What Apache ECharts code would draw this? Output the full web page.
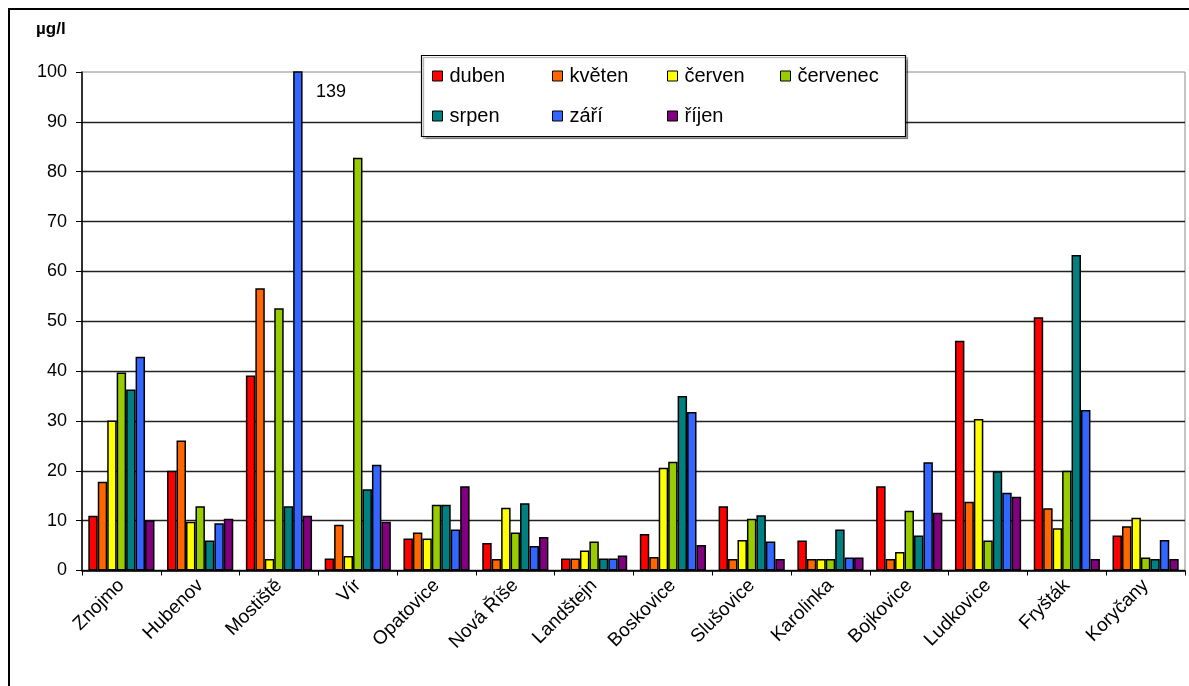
<!DOCTYPE html>
<html>
<head>
<meta charset="utf-8">
<script src="https://cdn.jsdelivr.net/npm/echarts@6/dist/echarts.min.js"></script>
<style>
  html, body { margin: 0; padding: 0; background: #fff; }
  #chart { width: 1189px; height: 686px; }
</style>
</head>
<body>
<div id="chart"></div>
<script>
// Sampling sites (reservoirs)
const categories = ['Znojmo', 'Hubenov', 'Mostiště', 'Vír', 'Opatovice', 'Nová Říše', 'Landštejn',
  'Boskovice', 'Slušovice', 'Karolinka', 'Bojkovice', 'Ludkovice', 'Fryšták', 'Koryčany'];

// Monthly concentrations, µg/l
const duben    = [11.0, 20.0, 39.1, 2.4, 6.4, 5.5, 2.4, 7.3, 12.9, 6.0, 16.9, 46.1, 50.8, 7.0];
const kveten   = [17.8, 26.1, 56.6, 9.2, 7.6, 2.3, 2.4, 2.7, 2.3, 2.3, 2.3, 13.8, 12.5, 8.9];
const cerven   = [30.1, 9.8, 2.3, 2.9, 6.4, 12.6, 4.0, 20.6, 6.1, 2.3, 3.7, 30.4, 8.5, 10.6];
const cervenec = [39.7, 12.9, 52.6, 82.8, 13.2, 7.6, 5.8, 21.8, 10.4, 2.3, 12.0, 6.0, 20.0, 2.6];
const srpen    = [36.3, 6.0, 12.9, 16.3, 13.2, 13.5, 2.4, 35.0, 11.1, 8.2, 7.0, 19.9, 63.3, 2.3];
const zari     = [42.9, 9.5, 139, 21.2, 8.2, 4.9, 2.4, 31.8, 5.8, 2.6, 21.7, 15.6, 32.2, 6.1];
const rijen    = [10.1, 10.4, 11.0, 9.8, 16.9, 6.7, 3.0, 5.1, 2.3, 2.6, 11.6, 14.8, 2.3, 2.3];

const seriesNames = ['duben', 'květen', 'červen', 'červenec', 'srpen', 'září', 'říjen'];
const seriesData = [duben, kveten, cerven, cervenec, srpen, zari, rijen];
const colors = ['#FF0000', '#FF6600', '#FFFF00', '#99CC00', '#008080', '#3366FF', '#800080'];

// y-axis scale
const yMin = 0, yMax = 100, yStep = 10;
const unitLabel = 'µg/l';

const FONT = '"Liberation Sans", Arial, sans-serif';
const chart = echarts.init(document.getElementById('chart'), null, { renderer: 'canvas' });

// legend laid out as fixed columns (two rows)
const legendCols = [
  { left: 432, names: ['duben', 'srpen'] },
  { left: 552, names: ['květen', 'září'] },
  { left: 667, names: ['červen', 'říjen'] },
  { left: 780, names: ['červenec'] }
];
const legends = legendCols.map(c => ({
  orient: 'vertical',
  left: c.left,
  top: 65,
  z: 6,
  padding: 0,
  icon: 'rect',
  itemWidth: 10,
  itemHeight: 10,
  itemGap: 18,
  selectedMode: false,
  data: c.names,
  itemStyle: { borderColor: '#000', borderWidth: 1 },
  textStyle: { fontFamily: FONT, fontSize: 20, color: '#000', lineHeight: 22, padding: [0, 0, 0, 2] }
}));

chart.setOption({
  animation: false,
  backgroundColor: '#fff',
  color: colors,
  textStyle: { fontFamily: FONT },
  grid: {
    left: 82, right: 4, top: 72, bottom: 115.5,
    show: true, borderColor: '#8a8a8a', borderWidth: 1, backgroundColor: 'transparent'
  },
  legend: legends,
  xAxis: {
    type: 'category',
    data: categories,
    axisLine: { lineStyle: { color: '#000', width: 1.5 } },
    axisTick: { show: true, alignWithLabel: false, length: 5, lineStyle: { color: '#000' } },
    axisLabel: { rotate: 45, fontSize: 19, color: '#000', fontFamily: FONT, margin: 12 },
    splitLine: { show: false }
  },
  yAxis: {
    type: 'value',
    min: yMin, max: yMax, interval: yStep,
    axisLine: { show: true, lineStyle: { color: '#000', width: 1.5 } },
    axisTick: { show: true, length: 6, lineStyle: { color: '#000' } },
    axisLabel: { fontSize: 18, color: '#000', fontFamily: FONT, margin: 15 },
    splitLine: { show: true, showMaxLine: false, lineStyle: { color: '#222', width: 1.3 } }
  },
  series: seriesNames.map((name, i) => ({
    name: name,
    type: 'bar',
    data: seriesData[i],
    barGap: '0%',
    barCategoryGap: '16%',
    clip: true,
    itemStyle: { color: colors[i], borderColor: '#000', borderWidth: 1.5 },
    emphasis: { disabled: true }
  }))
});

// off-scale value label, outer frame, legend box, unit label
const mostiste = categories.indexOf('Mostiště');
const topPt = chart.convertToPixel({ gridIndex: 0 }, [mostiste, yMax]);
chart.setOption({
  graphic: [
    {
      type: 'rect', z: -10, silent: true,
      shape: { x: 9, y: 9, width: 1200, height: 700 },
      style: { fill: 'none', stroke: '#000', lineWidth: 2 }
    },
    {
      type: 'rect', z: 3, silent: true,
      shape: { x: 421.5, y: 55.5, width: 484, height: 81 },
      style: { fill: '#fff', stroke: '#000', lineWidth: 1.2,
        shadowColor: 'rgba(0,0,0,0.35)', shadowOffsetX: 2, shadowOffsetY: 2, shadowBlur: 1 }
    },
    {
      type: 'text', z: 10, silent: true,
      left: 36, top: 21,
      style: { text: unitLabel, font: 'bold 17px ' + FONT, fill: '#000' }
    },
    {
      type: 'text', z: 10, silent: true,
      x: topPt[0] + 37, y: topPt[1] + 20,
      style: { text: String(zari[mostiste]), font: '18px ' + FONT, fill: '#000', verticalAlign: 'middle', align: 'left' }
    }
  ]
});
</script>
</body>
</html>
